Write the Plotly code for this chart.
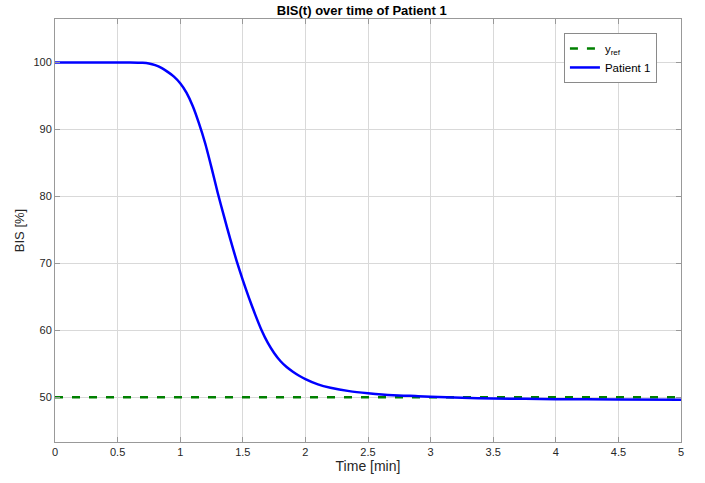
import plotly.graph_objects as go

# Data
time_min = [0, 0.3, 0.5, 0.6, 0.7, 0.75, 0.8, 0.85, 0.9, 0.95, 1.0, 1.05, 1.1, 1.15, 1.2, 1.25, 1.3,
            1.35, 1.4, 1.45, 1.5, 1.55, 1.6, 1.65, 1.7, 1.75, 1.8, 1.85, 1.9, 1.95, 2.0, 2.1, 2.2,
            2.35, 2.5, 2.7, 2.9, 3.0, 3.25, 3.5, 4.0, 4.5, 5.0]
bis_patient1 = [100, 100, 100, 100, 99.95, 99.85, 99.6, 99.2, 98.6, 97.9, 96.9, 95.5, 93.5, 90.9,
                87.9, 84.3, 80.5, 77.0, 73.6, 70.4, 67.5, 64.8, 62.3, 60.0, 58.1, 56.6, 55.4, 54.5,
                53.8, 53.2, 52.7, 51.9, 51.4, 50.9, 50.6, 50.3, 50.15, 50.05, 49.9, 49.8, 49.7,
                49.65, 49.6]
y_ref = 50
ref_time = [0, 5]
ref_values = [y_ref, y_ref]

x_ticks = [0, 0.5, 1, 1.5, 2, 2.5, 3, 3.5, 4, 4.5, 5]
x_tick_labels = ["0", "0.5", "1", "1.5", "2", "2.5", "3", "3.5", "4", "4.5", "5"]
y_ticks = [50, 60, 70, 80, 90, 100]

FONT = "Liberation Sans, Arial, sans-serif"

fig = go.Figure()
fig.add_trace(go.Scatter(
    x=ref_time, y=ref_values, mode="lines", name="y<sub>ref</sub>",
    line=dict(color="#008000", width=2.5, dash="8px,9px"),
))
fig.add_trace(go.Scatter(
    x=time_min, y=bis_patient1, mode="lines", name="Patient 1",
    line=dict(color="#0000ff", width=2.5, shape="spline", smoothing=0.5),
))

axis_common = dict(
    showgrid=True, gridcolor="#d9d9d9", gridwidth=1,
    showline=True, linecolor="#999999", linewidth=1, mirror="allticks",
    ticks="inside", ticklen=5, tickcolor="#999999",
    tickfont=dict(family=FONT, size=11, color="#262626"),
    zeroline=False,
)

fig.update_layout(
    width=705, height=483,
    margin=dict(l=55, r=24, t=19, b=41),
    paper_bgcolor="white", plot_bgcolor="white",
    title=dict(text="<b>BIS(t) over time of Patient 1</b>", x=0.49, xref="paper",
               y=1 - 10 / 483, yref="container", yanchor="middle", xanchor="center",
               font=dict(family=FONT, size=13, color="#000000")),
    xaxis=dict(range=[0, 5], tickvals=x_ticks, ticktext=x_tick_labels,
               title=dict(text="Time [min]", standoff=3,
                          font=dict(family=FONT, size=14, color="#262626")),
               **axis_common),
    yaxis=dict(range=[43.3, 106.5], tickvals=y_ticks,
               title=dict(text="BIS [%]", standoff=5,
                          font=dict(family=FONT, size=13, color="#262626")),
               **axis_common),
    legend=dict(x=0.813, y=0.967, xanchor="left", yanchor="top",
                bgcolor="white", bordercolor="#8a8a8a", borderwidth=1,
                font=dict(family=FONT, size=11.5, color="#000000"),
                itemwidth=30, tracegroupgap=0),
    showlegend=True,
)

# Remove the default 8px page margin so the figure fills the window exactly.
fig.write_html("out.html", config={"displayModeBar": False},
               post_script="document.body.style.margin='0';")
